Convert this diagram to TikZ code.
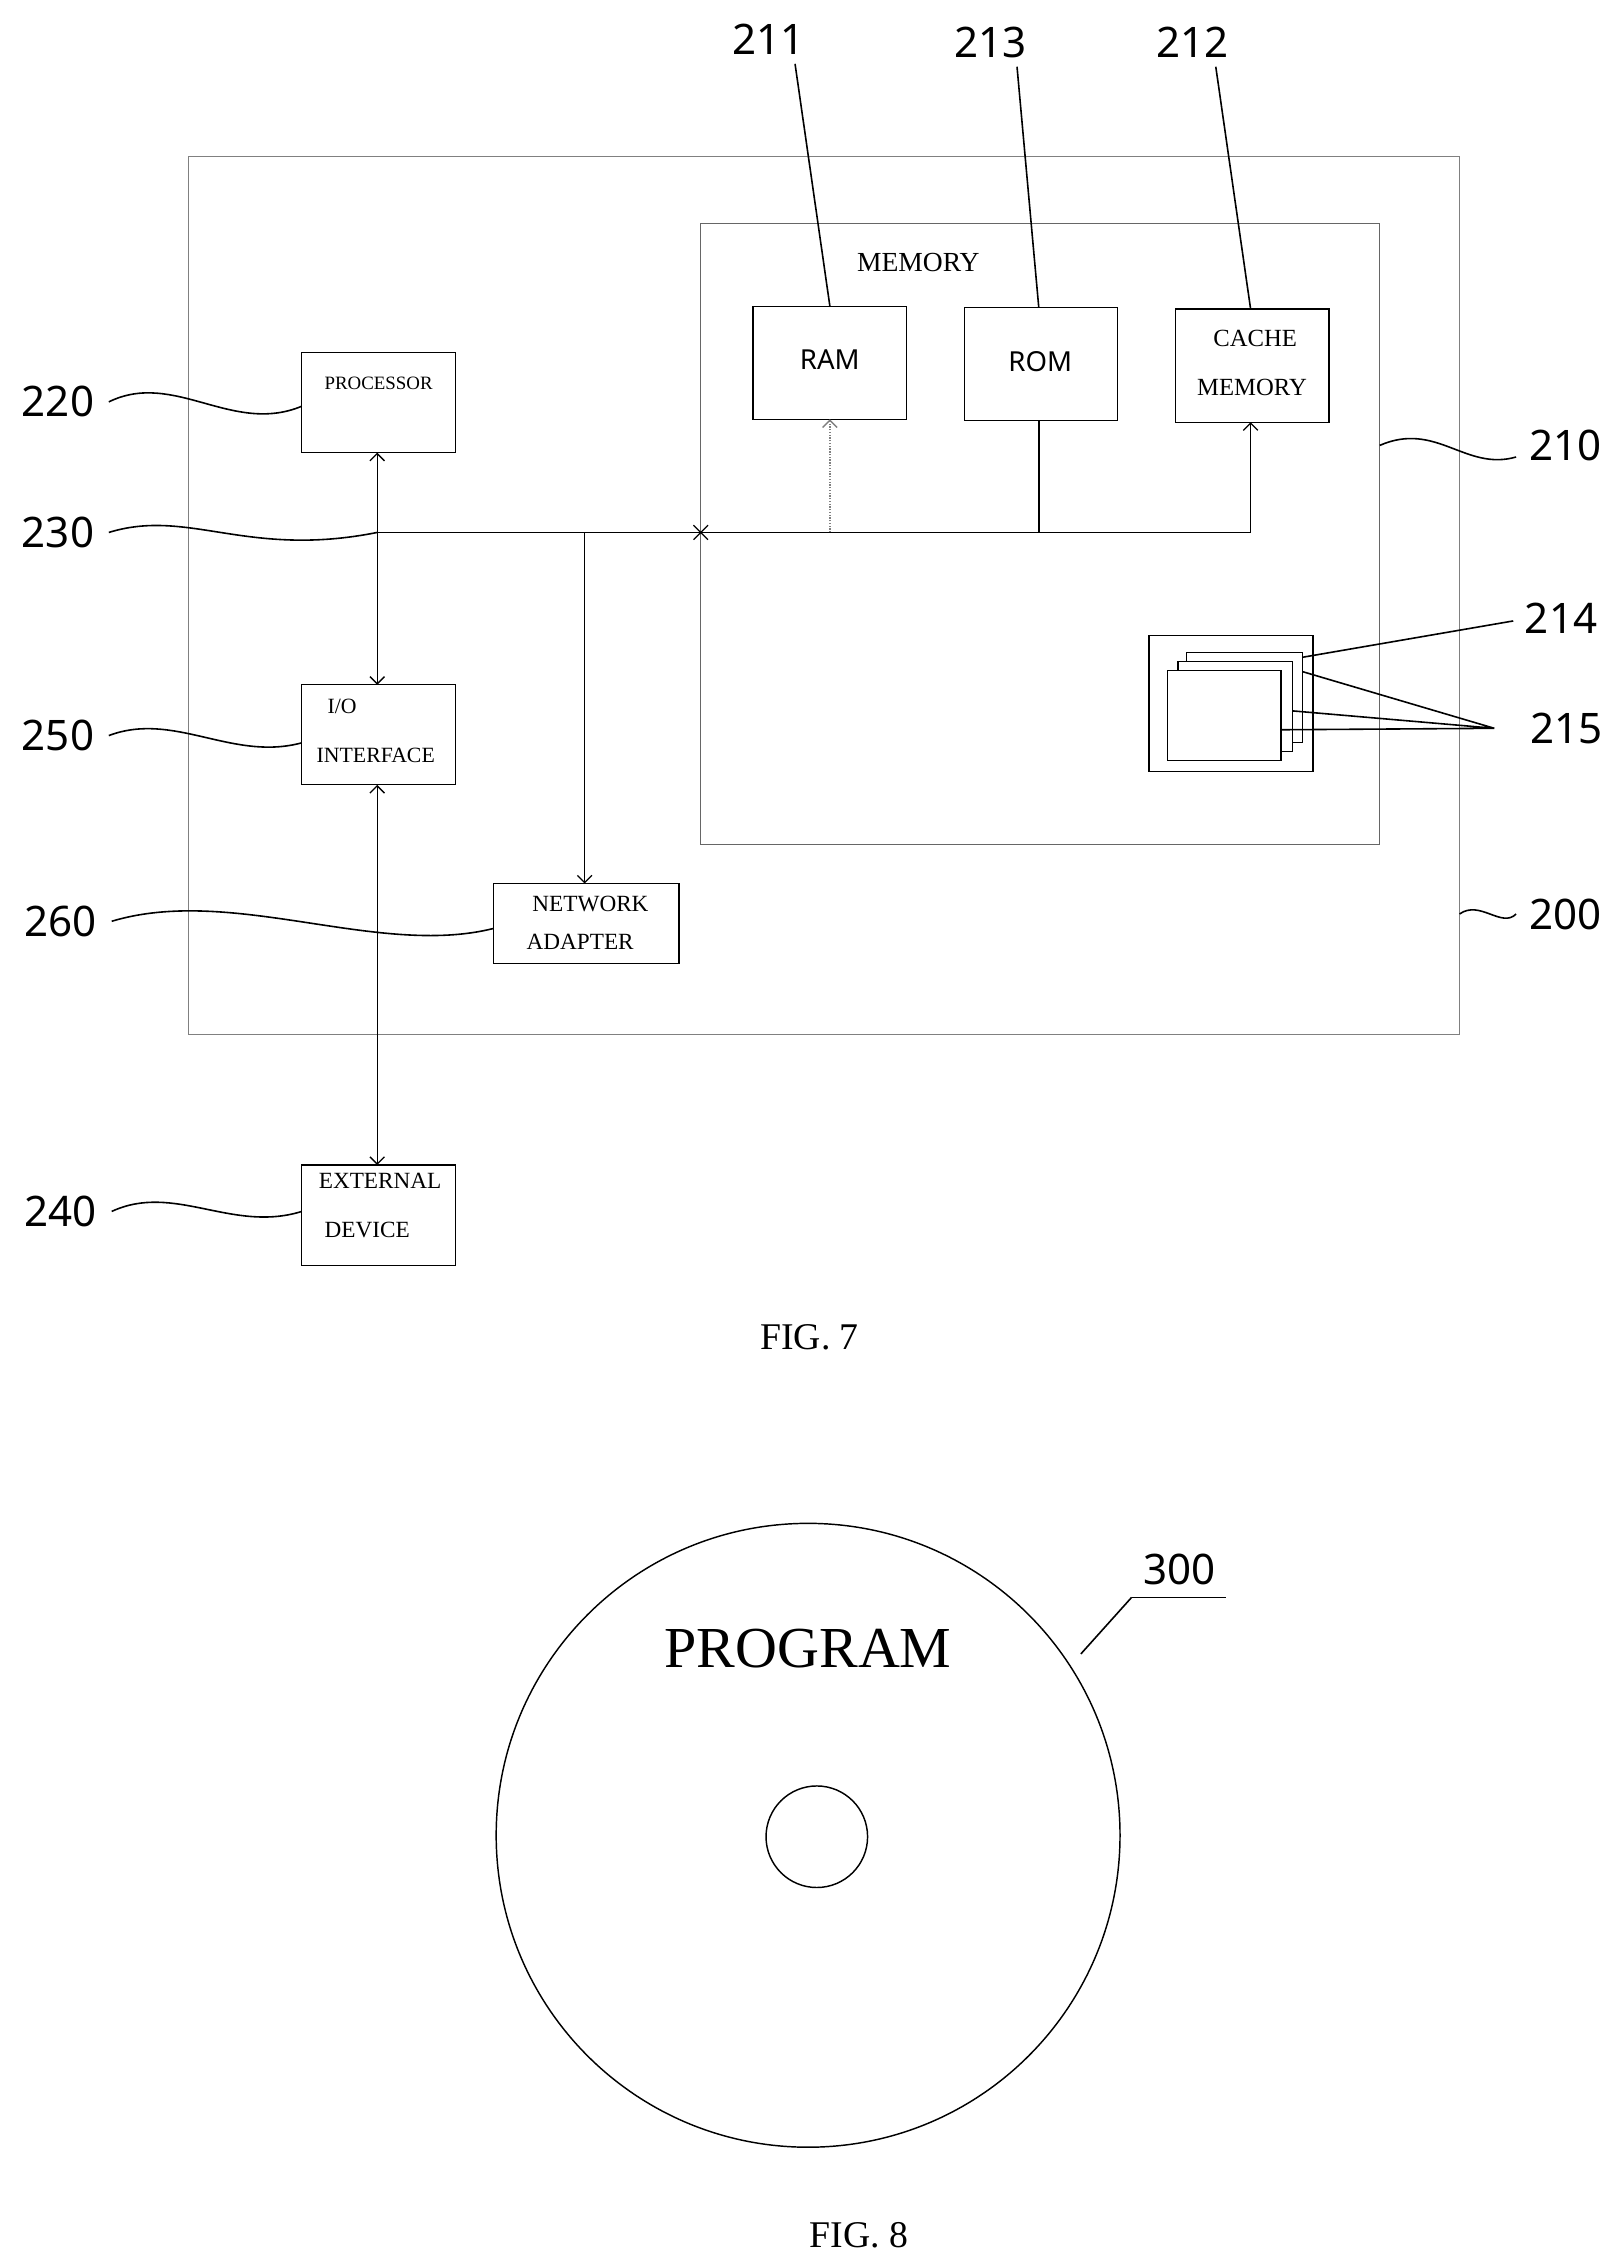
\documentclass[tikz,border=0pt]{standalone}
\usepackage{fontspec}
\usetikzlibrary{arrows.meta}
\setmainfont{Liberation Serif}
\newfontfamily\numf{Noto Sans}
\begin{document}
\begin{tikzpicture}[x=1pt,y=-1pt,
 box/.style={draw,line width=0.8pt},
 lbl/.style={font=\numf\fontsize{29}{30}\selectfont},
 btxt/.style={font=\fontsize{16}{18}\selectfont},
 ln/.style={line width=1.1pt},
 arr/.style={line width=0.9pt,-{Straight Barb[length=5pt]}},
 darr/.style={line width=0.9pt,{Straight Barb[length=5pt]}-{Straight Barb[length=5pt]}}]
\useasboundingbox (0,0) rectangle (1108,1555);
\draw[box,gray] (130,108) rectangle (1006,713);
\draw[box,gray!80!black] (483,154) rectangle (951,582);
\node[btxt,font=\fontsize{19}{20}\selectfont] (mem) at (633,181) {MEMORY};
\draw[box] (519,211) rectangle (625,289) coordinate (ramBR); \node[font=\numf\fontsize{19}{20}\selectfont] (ram) at (572,248) {RAM};
\draw[box] (665,212) rectangle (770,290); \node[font=\numf\fontsize{19}{20}\selectfont] (rom) at (717,249) {ROM};
\draw[box] (810,213) rectangle (916,291);
\node[btxt,align=center,font=\fontsize{17}{34}\selectfont] (cache) at (863,250) {\ CACHE\\MEMORY};
\draw[box] (208,243) rectangle (314,312); \node[btxt,font=\fontsize{13}{14}\selectfont] (proc) at (261,264) {PROCESSOR};
\draw[box] (208,472) rectangle (314,541); \node[btxt,align=left,font=\fontsize{15}{34}\selectfont] (io) at (259,504) {\ \ I/O\\INTERFACE};
\draw[box] (340,609) rectangle (468,664); \node[btxt,align=left,font=\fontsize{16}{26}\selectfont] (net) at (405,636) {\ NETWORK\\ADAPTER};
\draw[box] (208,803) rectangle (314,872); \node[btxt,align=left,font=\fontsize{16}{34}\selectfont] (ext) at (262,831) {EXTERNAL\\\ DEVICE};
% bus
\coordinate (b0) at (260,367); \coordinate (b1) at (862,367);
\draw[ln] (b0) -- (b1);
\draw[arr] (b1) -- (862,291);
\draw[arr,densely dotted,gray] (572,367) -- (572,289);
\draw[ln] (716,367) -- (716,290);
\draw[arr] (403,367) -- (403,609);
\draw[darr] (260,312) -- (260,472);
\draw[darr] (260,541) -- (260,803);
\draw[line width=0.9pt] (478,362)--(488,372) (478,372)--(488,362);
% stack
\draw[line width=0.8pt] (792,438) rectangle (905,532);
\draw[line width=0.8pt,fill=white] (818,450) rectangle (898,512);
\draw[line width=0.8pt,fill=white] (812,456) rectangle (891,518);
\draw[line width=0.8pt,fill=white] (805,462) rectangle (883,524);
% leaders
\node[lbl] (l211) at (530,27) {211};
\node[lbl] (l213) at (683,29) {213};
\node[lbl] (l212) at (822,29) {212};
\draw[ln] (548,44) -- (572,211);
\draw[ln] (701,46) -- (716,212);
\draw[ln] (838,46) -- (862,213);
\node[lbl] (l214) at (1076,426) {214};
\node[lbl] (l215) at (1080,502) {215};
\draw[ln] (898,453) -- (1043,428);
\draw[ln] (898,463) -- (1030,502) (891,490) -- (1030,502) (883,503) -- (1030,502);
\node[lbl] (l220) at (40,277) {220};
\node[lbl] (l230) at (40,367) {230};
\node[lbl] (l250) at (40,507) {250};
\node[lbl] (l260) at (42,635) {260};
\node[lbl] (l240) at (42,835) {240};
\node[lbl] (l210) at (1079,307) {210};
\node[lbl] (l200) at (1079,630) {200};
\draw[ln] (75,277) .. controls (120,255) and (160,300) .. (208,280);
\draw[ln] (75,367) .. controls (130,350) and (170,385) .. (260,367);
\draw[ln] (75,507) .. controls (120,490) and (160,525) .. (208,512);
\draw[ln] (77,635) .. controls (160,610) and (260,660) .. (340,640);
\draw[ln] (77,835) .. controls (120,815) and (160,850) .. (208,835);
\draw[ln] (951,307) .. controls (990,290) and (1010,325) .. (1045,315);
\draw[ln] (1006,630) .. controls (1020,620) and (1035,640) .. (1045,630);
\node[font=\fontsize{26}{28}\selectfont] (f7) at (558,922) {FIG. 7};
% fig 8
\node[draw,circle,line width=1pt,minimum size=430pt] (disc) at (557,1265) {};
\node[draw,circle,line width=1pt,minimum size=70pt] (hole) at (563,1266) {};
\node[font=\fontsize{40}{42}\selectfont] (prog) at (557,1136) {PROGRAM};
\node[lbl] (l300) at (813,1082) {300};
\draw[ln] (780,1101) -- (845,1101);
\draw[ln] (780,1101) -- (745,1140);
\node[font=\fontsize{26}{28}\selectfont] (f8) at (592,1541) {FIG. 8};
\end{tikzpicture}
\end{document}
